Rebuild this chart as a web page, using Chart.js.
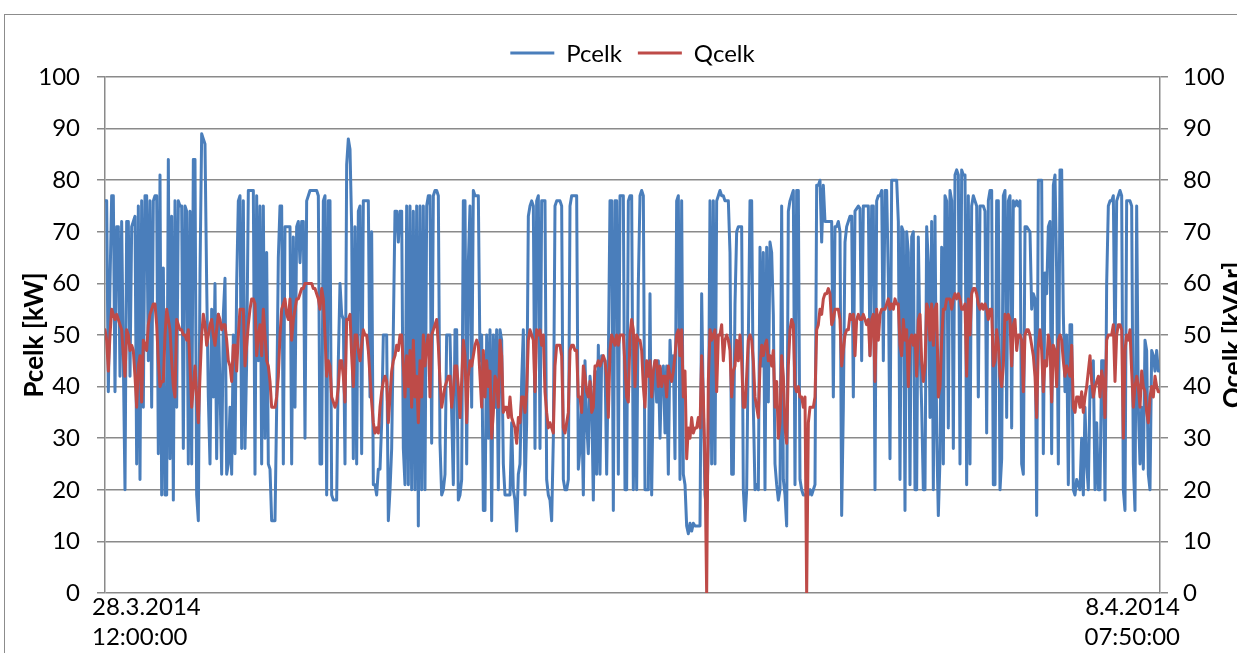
<!DOCTYPE html>
<html>
<head>
<meta charset="utf-8">
<title>Pcelk / Qcelk</title>
<script src="https://cdn.jsdelivr.net/npm/chart.js@4/dist/chart.umd.min.js"></script>
<style>
  html, body { margin: 0; padding: 0; background: #ffffff; overflow: hidden; }
  #wrap { position: relative; width: 1237px; height: 653px; overflow: hidden; }
  #frame { position: absolute; left: 4px; top: 14px; width: 1400px; height: 800px;
           border: 1.5px solid #8c8c8c; box-sizing: border-box; }
  canvas { position: absolute; left: 0; top: 0; }
</style>
</head>
<body>
<div id="wrap">
  <div id="frame"></div>
  <canvas id="chart" width="1237" height="653"></canvas>
</div>
<script>
// Measurement window: 28.3.2014 12:00:00 .. 8.4.2014 07:50:00 (259 h 50 min)
const startLabel = ['28.3.2014', '12:00:00'];
const endLabel = ['8.4.2014', '07:50:00'];
const spanHours = 259 + 50 / 60;

const seriesNames = ['Pcelk', 'Qcelk'];
const axisTitles = ['Pcelk [kW]', 'Qcelk [kVAr]'];
const yTicks = [0, 10, 20, 30, 40, 50, 60, 70, 80, 90, 100];

// Active power [kW], equally spaced samples over the window
const pcelk = [
  76,76,39,60,77,77,39,71,71,42,72,45,20,72,72,42,71,72,73,25,75,22,76,36,77,77,45,76,36,76,77,77,27,81,19,63,19,19,84,26,73,18,76,36,76,75,75,28,75,74,25,74,25,84,84,19,14,62,89,88,87,60,38,25,55,38,60,26,54,40,23,54,61,23,25,
  36,23,50,27,60,76,77,28,76,28,45,78,78,78,78,23,77,45,75,25,75,30,66,25,24,14,14,14,36,65,75,75,25,71,71,71,71,25,69,36,71,72,64,72,72,30,76,77,78,78,78,78,78,77,25,25,76,77,19,76,76,19,18,18,18,45,60,54,53,25,83,88,86,71,26,71,25,74,75,27,76,
  76,76,76,38,70,21,21,19,24,24,33,50,50,50,14,20,28,51,74,74,68,74,74,28,21,75,21,75,20,74,20,75,13,75,20,75,20,75,77,77,29,77,78,78,77,29,19,20,23,50,50,50,35,21,51,51,18,19,22,76,76,25,64,75,36,78,77,77,77,45,50,16,16,50,30,51,14,50,36,51,20,
  51,49,25,19,19,19,19,33,20,18,12,23,25,41,51,19,33,73,75,76,75,28,76,77,28,76,76,76,22,19,18,14,30,75,76,76,76,75,22,20,20,22,75,77,77,77,77,24,28,37,19,45,33,27,42,38,18,43,23,48,23,46,45,45,23,45,76,76,16,76,76,23,77,77,77,20,20,76,77,77,20,
  49,20,60,77,78,77,20,20,20,58,19,42,45,37,45,30,43,44,31,44,23,49,42,46,26,76,77,22,76,23,21,13,11.5,13.5,12,13.5,13,13,13,13,58,36,19,16,29,76,25,76,25,76,77,78,77,77,76,76,76,66,23,23,56,70,71,71,71,20,14,20,49,76,76,36,20,21,20,67,44,66,20,67,37,
  68,66,54,25,21,18,20,75,22,19,13,74,76,77,78,21,78,78,22,20,19,19,19,19,20,19,20,21,79,79,80,68,79,72,72,72,72,72,38,71,71,72,70,15,36,68,71,72,73,73,38,74,74.5,75,74.5,45,75,75,75,75,46,75,75,20,76,77,77,78,45,78,78,61,26,80,80,80,80,72,22,71,70,
  16,70,66,21,69,70,20,20,69,48,36,20,20,71,64,34,72,20,73,31,15,26,67,25,77,76,32,78,76,28,81,82,81,25,82,81,81,21,77,25,75,77,76,75,38,75,75,75,74,31,76,78,78,21,21,76,76,20,26,77,78,34,76,77,32,76,75,76,75,76,25,23,71,71,70.5,70,55,58,57,15,80,
  80,80,27,62,58,71,72,27,79,81,62,25,82,82,54,39,50,21,52,52,20,19,22,21,20,30,19,36,25,20,40,38,45,20,33,20,20,45,45,18,60,75,76,76,77,45,76,77,78,77,20,16,76,76,76,75,25,16,75,36,25,36,24,49,47,23,20,47,46,43,47,43,43
];

// Reactive power [kVAr], same sampling
const qcelk = [
  51,49,43,50,55,54,53,54,53,52,51,46,42,51,50,47,48,47,42,36,44,46,37,49,48,47,52,54,55,56,56,52,45,40,41,41,50,55,53,51,45,40,38,53,52,51,51,50,50,49,51,44,36,40,44,38,33,42,50,54,52,48,50,52,53,50,48,51,54,53,51,52,52,49,45,
  44,41,48,48,43,50,55,55,55,44,48,52,55,57,57,56,46,50,52,46,55,50,45,44,41,36,36,36,38,42,50,55,56,57,54,53,57,49,53,55,57,57,58,59,59,60,60,60,60,60,59,59,58,57,55,59,57,50,42,45,44,38,37,36,37,40,45,45,42,37,53,53,54,46,40,50,50,47,45,48,51,
  50,50,47,42,37,33,31,32,31,36,39,41,42,41,33,38,43,45,46,48,47,50,50,44,38,46,40,47,36,49,38,42,33,45,38,50,44,48,50,38,50,51,52,53,48,41,36,38,40,41,42,42,36,39,44,44,40,34,41,49,46,33,42,45,44,46,48,49,48,42,36,47,38,45,40,43,30,35,42,41,36,
  49,46,35,36,36,34,38,34,33,32,29,34,33,38,38,35,39,49,51,50,49,39,51,50,51,48,50,39,35,32,33,32,31,44,48,48,48,46,32,31,33,35,47,48,48,47,47,38,38,35,44,42,39,38,41,35,36,44,44,45,44,45,46,45,42,34,47,50,49,48,50,48,50,50,50,44,38,37,50,53,51,
  40,50,49,49,47,40,36,45,42,45,38,43,45,45,40,44,40,42,42,38,44,42,41,43,46,50,51,46,51,38,43,26,32,30,34,31,32,32,34,32,46,38,25,0,41,51,49,50,51,39,50,50,52,45,49,50,49,47,38,43,44,49,45,50,45,36,36,42,49,50,49,45,38,36,34,44,48,46,48,49,45,
  46,44,47,36,41,30,33,46,42,32,29,44,51,53,52,40,39,40,38,38,36,38,0,33,36,36,36,38,51,52,55,54,57,58,58,59,58,52,53,55,55,55,53,44,47,50,51,51,54,53,54,46,53,54,53,53,54,53,52,53,46,53,54,41,55,49,54,55,55,55,56,57,55,56,55,57,56,56,48,46,53,
  49,51,40,49,50,48,50,42,53,54,45,41,44,56,55,49,56,48,55,56,38,40,49,55,55,57,57,57,55,57,58,57,58,57,55,55,56,42,57,50,58,59,59,58,56,55,56,55,56,55,53,55,55,44,45,51,48,42,40,44,54,53,54,53,44,52,53,47,50,50,49,39,50,51,51,50,48,46,42,34,48,
  51,47,39,45,44,50,48,37,48,47,40,49,50,49,45,42,44,43,42,48,36,35,38,38,36,39,35,38,40,43,46,41,38,40,41,42,38,43,41,34,49,50,50,50,52,41,50,52,52,51,30,47,50,49,51,43,36,40,42,40,36,43,40,39,35,33,38,40,38,42,40,39,39
];

const COLORS = ['#4a7ebb', '#be4b48'];
const FONT = 'Lato, "Open Sans", sans-serif';
const GRID = '#8a8a8a';

// samples are evenly spaced across the window; x is hours since the start
const stepHours = spanHours / (pcelk.length - 1);
const toPoints = arr => arr.map((v, i) => ({ x: i * stepHours, y: v }));

// legend, rotated axis titles and the two date/time labels
const decor = {
  id: 'decor',
  afterDraw(chart) {
    const { ctx, chartArea: a } = chart;
    ctx.save();
    ctx.fillStyle = '#000';

    // legend (line sample + name), centred over the plot
    ctx.font = '24px ' + FONT;
    ctx.textBaseline = 'middle';
    const lineLen = 44, gap = 12, itemGap = 16, ly = 53;
    const widths = seriesNames.map(n => ctx.measureText(n).width);
    const total = widths.reduce((s, w) => s + lineLen + gap + w, 0) + itemGap;
    let x = (a.left + a.right) / 2 - total / 2;
    seriesNames.forEach((name, i) => {
      ctx.strokeStyle = COLORS[i];
      ctx.lineWidth = 3;
      ctx.beginPath();
      ctx.moveTo(x, ly);
      ctx.lineTo(x + lineLen, ly);
      ctx.stroke();
      x += lineLen + gap;
      ctx.fillStyle = '#000';
      ctx.textAlign = 'left';
      ctx.fillText(name, x, ly + 1);
      x += widths[i] + itemGap;
    });

    // axis titles, both reading bottom to top
    const cy = (a.top + a.bottom) / 2;
    ctx.font = 'bold 26px ' + FONT;
    ctx.textAlign = 'center';
    ctx.textBaseline = 'alphabetic';
    [[43, axisTitles[0]], [1242, axisTitles[1]]].forEach(([tx, t]) => {
      ctx.save();
      ctx.translate(tx, cy);
      ctx.rotate(-Math.PI / 2);
      ctx.fillText(t, 0, 0);
      ctx.restore();
    });

    // first and last time stamps under the x axis
    ctx.font = '24px ' + FONT;
    ctx.textBaseline = 'middle';
    ctx.textAlign = 'left';
    ctx.fillText(startLabel[0], a.left - 13, a.bottom + 14);
    ctx.fillText(startLabel[1], a.left - 13, a.bottom + 44);
    ctx.textAlign = 'right';
    ctx.fillText(endLabel[0], a.right + 20, a.bottom + 14);
    ctx.fillText(endLabel[1], a.right + 20, a.bottom + 44);
    ctx.restore();
  }
};

const yAxis = (pos, pad, width, onArea) => ({
  position: pos,
  min: yTicks[0],
  max: yTicks[yTicks.length - 1],
  afterBuildTicks(s) { s.ticks = yTicks.map(v => ({ value: v })); },
  ticks: { padding: pad, color: '#000', font: { family: FONT, size: 24 } },
  grid: { color: GRID, lineWidth: 1.5, tickLength: 8, drawOnChartArea: onArea },
  border: { color: GRID, width: 1.5 },
  afterFit(s) { s.width = width; }
});

new Chart(document.getElementById('chart'), {
  type: 'line',
  data: {
    datasets: [
      { label: seriesNames[0], data: toPoints(pcelk), yAxisID: 'y', order: 1,
        borderColor: COLORS[0], backgroundColor: COLORS[0], borderWidth: 3,
        pointRadius: 0, tension: 0, borderJoinStyle: 'round', borderCapStyle: 'round' },
      { label: seriesNames[1], data: toPoints(qcelk), yAxisID: 'y2', order: 0,
        borderColor: COLORS[1], backgroundColor: COLORS[1], borderWidth: 3,
        pointRadius: 0, tension: 0, borderJoinStyle: 'round', borderCapStyle: 'round' }
    ]
  },
  options: {
    responsive: false,
    animation: false,
    devicePixelRatio: 1,
    layout: { padding: { top: 77, left: 0, right: 0, bottom: 0 } },
    plugins: { legend: { display: false }, tooltip: { enabled: false } },
    scales: {
      x: { type: 'linear', min: 0, max: spanHours,
           grid: { display: false }, border: { display: false },
           ticks: { display: false },
           afterFit(s) { s.height = 60; } },
      y: yAxis('left', 17, 105, true),
      y2: yAxis('right', 15, 77, false)
    }
  },
  plugins: [decor]
});
</script>
</body>
</html>
